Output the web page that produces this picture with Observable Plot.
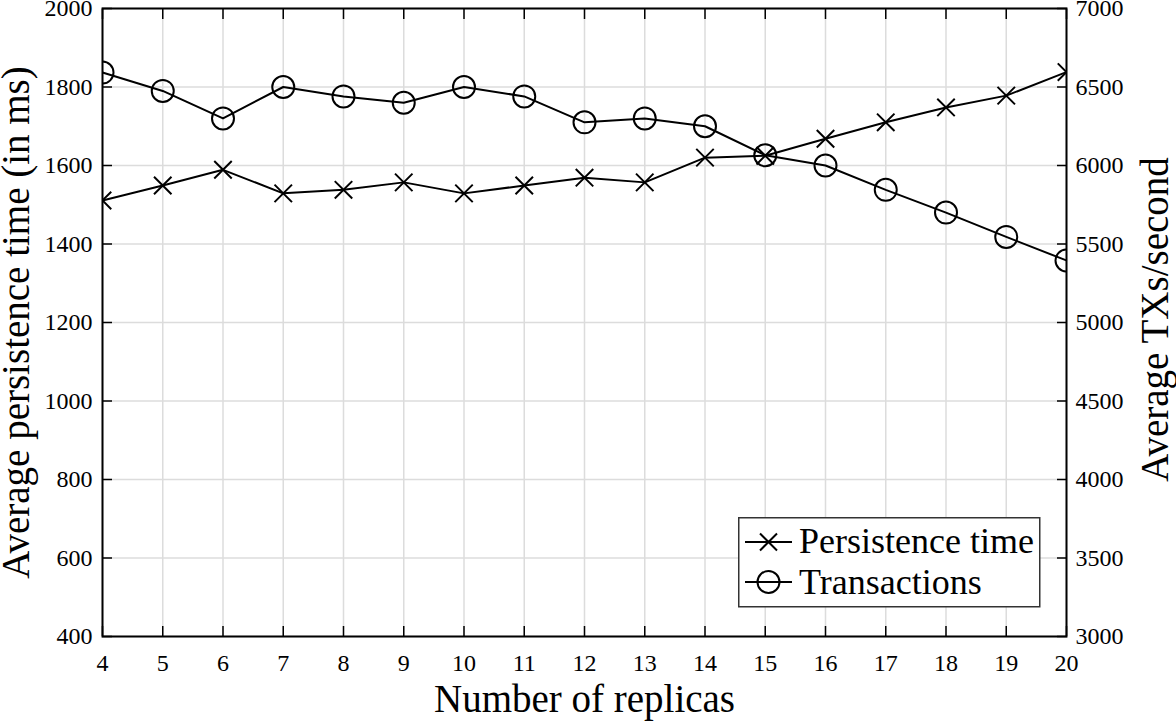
<!DOCTYPE html>
<html><head><meta charset="utf-8">
<script src="https://cdn.jsdelivr.net/npm/d3@7"></script>
<script src="https://cdn.jsdelivr.net/npm/@observablehq/plot@0.6"></script>
<style>
body{margin:0;background:#fff;}
#wrap{position:relative;width:1176px;height:721px;background:#fff;}
#wrap svg text{font-family:"Liberation Serif",serif;font-variant:normal;}
#legend{position:absolute;left:738px;top:517px;}
</style></head><body><div id="wrap"></div>
<script>
const replicas = [4,5,6,7,8,9,10,11,12,13,14,15,16,17,18,19,20];
const persistenceMs = [1511,1549,1589,1529,1538,1557,1529,1549,1569,1557,1620,1625,1668,1710,1748,1778,1838];
const transactionsPerSec = [6592,6475,6300,6500,6440,6400,6500,6440,6275,6300,6250,6065,6000,5845,5700,5545,5395];
const xTicks = [4,5,6,7,8,9,10,11,12,13,14,15,16,17,18,19,20];
const leftTicks = [400,600,800,1000,1200,1400,1600,1800,2000];
const rightTicks = [3000,3500,4000,4500,5000,5500,6000,6500,7000];
const seriesNames = ["Persistence time","Transactions"];

// map right-axis values onto the left scale
const toLeft = v => 400 + (v - 3000) * 0.4;
const fromLeft = v => 3000 + (v - 400) / 0.4;

const persData = replicas.map((x,i)=>({x, y: persistenceMs[i]}));
const txData = replicas.map((x,i)=>({x, y: toLeft(transactionsPerSec[i])}));

const font = "Liberation Serif";
const tickStyle = {stroke:"black", strokeWidth:1.5, tickFormat:()=>"", label:null};
const labStyle = {tickSize:0, label:null, fontSize:24, fontFamily:font, fontVariant:"normal", fill:"black"};

const chart = Plot.plot({
  width:1176, height:721,
  marginLeft:102, marginRight:110, marginTop:8, marginBottom:85,
  style:{fontFamily:font, fontSize:"24px", background:"white", color:"black"},
  x:{domain:[4,20]},
  y:{domain:[400,2000]},
  marks:[
    Plot.gridX(xTicks, {stroke:"#dcdcdc", strokeOpacity:1, strokeWidth:1.5}),
    Plot.gridY(leftTicks, {stroke:"#dcdcdc", strokeOpacity:1, strokeWidth:1.5}),
    Plot.line(persData, {x:"x", y:"y", stroke:"black", strokeWidth:2, clip:true}),
    Plot.dot(persData, {x:"x", y:"y", symbol:"times", r:8, stroke:"black", strokeWidth:2, clip:true}),
    Plot.line(txData, {x:"x", y:"y", stroke:"black", strokeWidth:2, clip:true}),
    Plot.dot(txData, {x:"x", y:"y", symbol:"circle", r:11, fill:"none", stroke:"black", strokeWidth:2, clip:true}),
    // inward ticks
    Plot.axisX(xTicks, {anchor:"bottom", tickSize:10, dy:-10, ...tickStyle}),
    Plot.axisX(xTicks, {anchor:"top", tickSize:10, dy:10, ...tickStyle}),
    Plot.axisY(leftTicks, {anchor:"left", tickSize:10, dx:10, ...tickStyle}),
    Plot.axisY(rightTicks.map(toLeft), {anchor:"right", tickSize:10, dx:-10, ...tickStyle}),
    // tick labels
    Plot.axisX(xTicks, {anchor:"bottom", tickPadding:17, ...labStyle, tickFormat:d=>String(d)}),
    Plot.axisY(leftTicks, {anchor:"left", tickPadding:10, ...labStyle, tickFormat:d=>String(d)}),
    Plot.axisY(rightTicks.map(toLeft), {anchor:"right", tickPadding:9, ...labStyle, tickFormat:d=>String(Math.round(fromLeft(d)))}),
    Plot.frame({stroke:"black", strokeWidth:2}),
    // axis titles
    Plot.text(["Number of replicas"], {text:d=>d, frameAnchor:"bottom", textAnchor:"middle", dy:75, lineAnchor:"bottom", fontSize:39, fontFamily:font, fill:"black"}),
    Plot.text(["Average persistence time (in ms)"], {text:d=>d, frameAnchor:"left", textAnchor:"middle", dx:-74, rotate:-90, lineAnchor:"bottom", fontSize:39, fontFamily:font, fill:"black"}),
    Plot.text(["Average TXs/second"], {text:d=>d, frameAnchor:"right", textAnchor:"middle", dx:101, dy:-3, rotate:-90, lineAnchor:"bottom", fontSize:39, fontFamily:font, fill:"black"})
  ]
});
const wrap = document.getElementById("wrap");
wrap.appendChild(chart);

// legend
const leg = d3.create("svg").attr("id","legend").attr("width",304).attr("height",92)
  .style("font-family", font);
leg.append("rect").attr("x",0.75).attr("y",0.75).attr("width",301).attr("height",89)
  .attr("fill","white").attr("stroke","#333").attr("stroke-width",1.5);
const rows = [{ly:25, ty:36, sym:"times"},{ly:65, ty:77, sym:"circle"}];
rows.forEach((r,i)=>{
  leg.append("line").attr("x1",7).attr("x2",54).attr("y1",r.ly).attr("y2",r.ly).attr("stroke","black").attr("stroke-width",2);
  if (r.sym === "times") {
    leg.append("path").attr("d",`M${30.5-8.5},${r.ly-8.5}L${30.5+8.5},${r.ly+8.5}M${30.5-8.5},${r.ly+8.5}L${30.5+8.5},${r.ly-8.5}`)
      .attr("stroke","black").attr("stroke-width",2);
  } else {
    leg.append("circle").attr("cx",30.5).attr("cy",r.ly).attr("r",11).attr("fill","none").attr("stroke","black").attr("stroke-width",2);
  }
  leg.append("text").attr("x",61).attr("y",r.ty).attr("font-size",36).attr("fill","black").text(seriesNames[i]);
});
wrap.appendChild(leg.node());
</script></body></html>
